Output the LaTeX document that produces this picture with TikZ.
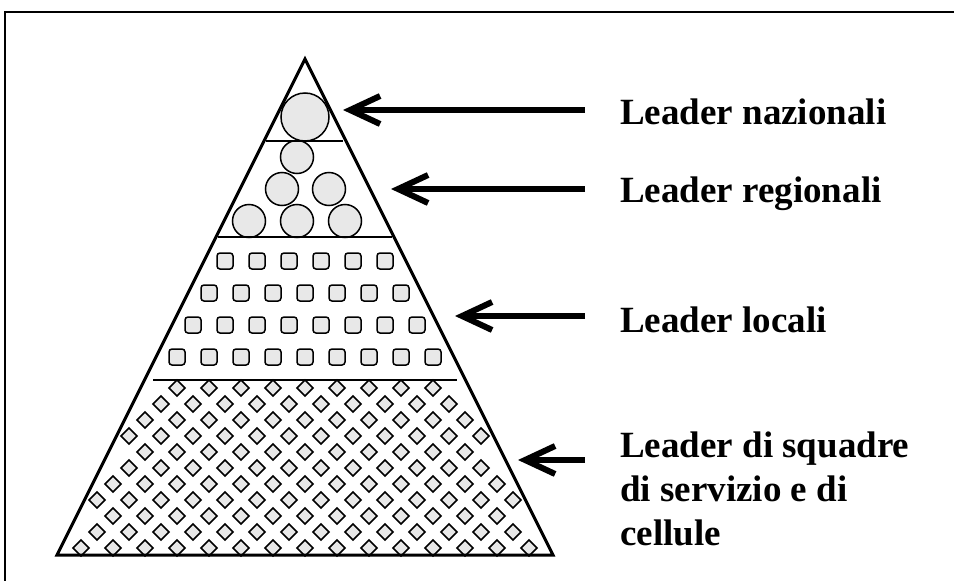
\documentclass[tikz,border=0pt]{standalone}
\usepackage{fontspec}
\setmainfont{Liberation Serif}
\usetikzlibrary{arrows.meta}

\begin{document}
\begin{tikzpicture}[x=1pt, y=-1pt]
\tikzset{
  lbl/.style={inner sep=0pt, align=left,
    font=\fontsize{37}{44}\selectfont\bfseries},
  pfeil/.style={line width=6pt, shorten <=35pt,
    -{Straight Barb[length=30pt, width=28pt]}},
  ball/.style={draw, fill=black!9, line width=1.5pt},
  tile/.style={draw, fill=black!9, line width=1.5pt, rounded corners=3pt},
  rhomb/.style={draw, fill=black!9, line width=1.5pt},
  divider/.style={line width=2pt}
}
\useasboundingbox (0,0) rectangle (954,581);
\draw[line width=2pt] (5,581) -- (5,12) -- (954,12);

\coordinate (apex) at (305,59);
\coordinate (bl)   at (57,555);
\coordinate (br)   at (553,555);

\foreach \r/\m in {0/8,1/9,2/10,3/11,4/10,5/11,6/12,7/13,8/12,9/13,10/14}
  \foreach \i in {0,...,\m}
    \draw[rhomb] ({305+16*(2*\i-\m)},{380+16*\r}) -- ++(8,8) -- ++(-8,8) -- ++(-8,-8) -- cycle;

\foreach \r in {0,...,3} {
  \pgfmathtruncatemacro\m{5+\r}
  \foreach \i in {0,...,\m}
    \draw[tile] ({297+16*(2*\i-\m)},{253+32*\r}) rectangle ++(16,16);
}

\draw[ball] (305,117) circle[radius=24pt];
\draw[ball] (297,157) circle[radius=16.5pt];
\draw[ball] (282,189) circle[radius=16.5pt];
\draw[ball] (329,189) circle[radius=16.5pt];
\draw[ball] (249,221) circle[radius=16.5pt];
\draw[ball] (297,221) circle[radius=16.5pt];
\draw[ball] (345,221) circle[radius=16.5pt];

\draw[divider] (266,141) -- (343,141);
\draw[divider] (218,237) -- (392,237);
\draw[divider] (153,380) -- (457,380);
\draw[line width=3pt] (apex) -- (bl) -- (br) -- cycle;

\node[lbl, anchor=base west] (naz) at (620,124) {Leader nazionali};
\node[lbl, anchor=base west] (reg) at (620,202) {Leader regionali};
\node[lbl, anchor=base west] (loc) at (620,332) {Leader locali};
\node[lbl, anchor=north west] (squ) at (620,432) {Leader di squadre\\di servizio e di\\cellule};

\coordinate (tnaz) at (343,110);
\coordinate (treg) at (391,189);
\coordinate (tloc) at (455,316);
\coordinate (tsqu) at (518,460);

\draw[pfeil] (tnaz -| naz.west) -- (tnaz);
\draw[pfeil] (treg -| reg.west) -- (treg);
\draw[pfeil] (tloc -| loc.west) -- (tloc);
\draw[pfeil] (tsqu -| squ.west) -- (tsqu);
\end{tikzpicture}
\end{document}
